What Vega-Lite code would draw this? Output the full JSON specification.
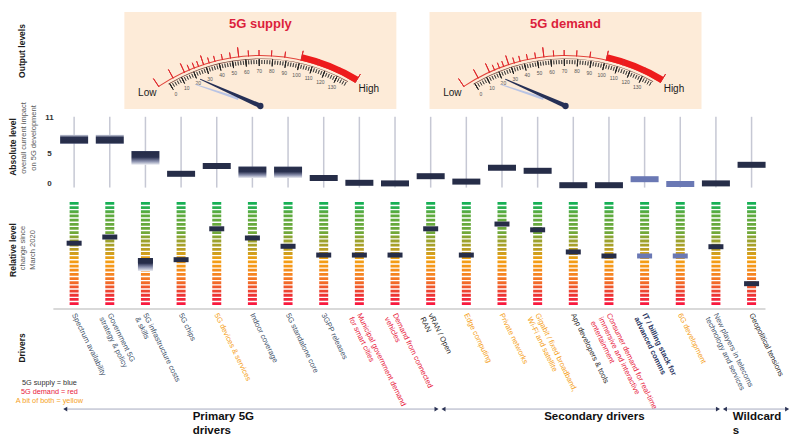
{
"$schema":"https://vega.github.io/schema/vega-lite/v6.json",
"width":800,"height":445,
"autosize":{"type":"none"},
"padding":0,
"background":"#ffffff",
"config":{"view":{"stroke":null},"font":"Liberation Sans"},
"datasets":{
 "drivers":[
  {"i":1,"label":"Spectrum availability","type":"supply","tone":"dark","abs":7.5,"lo":6.7,"hi":8.2,"fade":"both","rel":60},
  {"i":2,"label":"Government 5G\nstrategy & policy","type":"supply","tone":"dark","abs":7.5,"lo":6.7,"hi":8.2,"fade":"both","rel":66},
  {"i":3,"label":"5G infrastructure costs\n& skills","type":"supply","tone":"dark","abs":4.8,"lo":3.2,"hi":5.5,"fade":"down","rel":43,"relLo":33,"relHi":45.6},
  {"i":4,"label":"5G chips","type":"supply","tone":"dark","abs":1.7,"rel":44},
  {"i":5,"label":"5G devices & services","type":"both","tone":"dark","abs":3.0,"rel":74},
  {"i":6,"label":"Indoor coverage","type":"supply","tone":"dark","abs":2.3,"lo":1.0,"hi":2.9,"fade":"down","rel":65},
  {"i":7,"label":"5G standalone core","type":"supply","tone":"dark","abs":2.3,"lo":1.0,"hi":2.9,"fade":"down","rel":57},
  {"i":8,"label":"3GPP releases","type":"supply","tone":"dark","abs":1.0,"rel":48.5},
  {"i":9,"label":"Municipal government demand\nfor smart cities","type":"demand","tone":"dark","abs":0.2,"rel":48.5},
  {"i":10,"label":"Demand from connected\nvehicles","type":"demand","tone":"dark","abs":0.1,"rel":48.5},
  {"i":11,"label":"vRAN / Open\nRAN","type":"neutral","tone":"dark","abs":1.3,"rel":74},
  {"i":12,"label":"Edge computing","type":"both","tone":"dark","abs":0.4,"rel":48.5},
  {"i":13,"label":"Private networks","type":"both","tone":"dark","abs":2.7,"rel":78.6},
  {"i":14,"label":"Gigabit / fixed broadband,\nWi-Fi and satellite","type":"both","tone":"dark","abs":2.2,"rel":73},
  {"i":15,"label":"App developers & tools","type":"neutral","tone":"dark","abs":-0.2,"rel":51.5},
  {"i":16,"label":"Consumer demand for real-time\nimmersive and interactive\nentertainment","type":"demand","tone":"dark","abs":-0.2,"rel":47.6},
  {"i":17,"label":"IT / billing stack for\nadvanced comms","type":"it","tone":"light","abs":0.8,"rel":47.6},
  {"i":18,"label":"6G development","type":"both","tone":"light","abs":0.0,"rel":47.6},
  {"i":19,"label":"New players in telecoms\ntechnology and services","type":"supply","tone":"dark","abs":0.1,"rel":56.6},
  {"i":20,"label":"Geopolitical tensions","type":"neutral","tone":"dark","abs":3.2,"rel":20.7}
 ],
 "absTicks":[{"lab":"11","val":11},{"lab":"5","val":5},{"lab":"0","val":0}],
 "gauges":[{"g":0,"name":"5G supply"},{"g":1,"name":"5G demand"}],
 "ticks":[
  {"kind":"redLong","v":[-8,4.2,13.5,28.6,55,100.9,144]},
  {"kind":"redShort","v":[17.5,21.4,24.7,32.9,37.3,42.9,48.9,62.2,69.9,79,88.8,113.5,129]},
  {"kind":"minor","v":[0,2,4,6,8,10,12,14,16,18,20,22,24,26,28,30,32,34,36,38,40,42,44,46,48,50,52,54,56,58,60,62,64,66,68,70,72,74,76,78,80,82,84,86,88,90,92,94,96,98,100,102,104,106,108,110,112,114,116,118,120,122,124,126,128,130,132,134,136,138]},
  {"kind":"major","v":[0,10,20,30,40,50,60,70,80,90,100,110,120,130]}
 ],
 "words":[{"g":[0,1],"w":"Low","v":-17.5},{"g":[0,1],"w":"High","v":155}],
 "needles":[{"g":[0,1],"part":"ghost","reading":12},{"g":[0,1],"part":"needle","reading":20}],
 "sections":[
  {"sec":"Primary 5G\ndrivers","a":0.751,"b":11.165,"tx":4.324},
  {"sec":"Secondary drivers","a":11.359,"b":19.058,"tx":14.184},
  {"sec":"Wildcard\ns","a":19.252,"b":20.998,"tx":19.474}
 ]
},
"layer":[
 {"layer":[
  {"data":{"name":"gauges"},"mark":{"type":"bar","width":272,"fill":"#fdebd8"},
   "encoding":{"x":{"field":"g","type":"quantitative","scale":{"domain":[-0.8369,1.7521],"nice":false,"zero":false},"axis":null},
    "y":{"datum":0,"type":"quantitative","scale":{"domain":[-346.4,112.35],"nice":false,"zero":false},"axis":null},"y2":{"datum":100}}},
  {"data":{"name":"gauges"},"mark":{"type":"text","fontSize":13,"fontWeight":"bold","fill":"#dc1f3c","align":"center","baseline":"middle"},
   "encoding":{"x":{"field":"g","type":"quantitative","scale":{"domain":[-0.8369,1.7521],"nice":false,"zero":false},"axis":null},
    "y":{"datum":87.6,"type":"quantitative","scale":{"domain":[-346.4,112.35],"nice":false,"zero":false},"axis":null},"text":{"field":"name"}}},
  {"data":{"name":"gauges"},"mark":{"type":"arc","radius":183,"radius2":182,"fill":"#e2453c"},
   "encoding":{"x":{"field":"g","type":"quantitative","scale":{"domain":[-0.8369,1.7521],"nice":false,"zero":false},"axis":null},
    "y":{"datum":-133,"type":"quantitative","scale":{"domain":[-346.4,112.35],"nice":false,"zero":false},"axis":null},
    "theta":{"datum":-8,"type":"quantitative","stack":null,"scale":{"domain":[0,130],"range":[-0.531,0.443],"nice":false,"zero":false}},"theta2":{"datum":144}}},
  {"data":{"name":"gauges"},"mark":{"type":"arc","radius":188.5,"radius2":182,"fill":"#ee1c1c"},
   "encoding":{"x":{"field":"g","type":"quantitative","scale":{"domain":[-0.8369,1.7521],"nice":false,"zero":false},"axis":null},
    "y":{"datum":-133,"type":"quantitative","scale":{"domain":[-346.4,112.35],"nice":false,"zero":false},"axis":null},
    "theta":{"datum":100.9,"type":"quantitative","stack":null,"scale":{"domain":[0,130],"range":[-0.531,0.443],"nice":false,"zero":false}},"theta2":{"datum":144}}},
  {"data":{"name":"gauges"},"mark":{"type":"arc","radius":179.6,"radius2":178.9,"fill":"#7a4a40"},
   "encoding":{"x":{"field":"g","type":"quantitative","scale":{"domain":[-0.8369,1.7521],"nice":false,"zero":false},"axis":null},
    "y":{"datum":-133,"type":"quantitative","scale":{"domain":[-346.4,112.35],"nice":false,"zero":false},"axis":null},
    "theta":{"datum":-1,"type":"quantitative","stack":null,"scale":{"domain":[0,130],"range":[-0.531,0.443],"nice":false,"zero":false}},"theta2":{"datum":139}}},
  {"data":{"name":"ticks"},"transform":[{"filter":"datum.kind == 'redLong'"},{"flatten":["v"]}],"mark":{"type":"arc","radius":192,"radius2":182,"stroke":"#e0262b","strokeWidth":1,"fillOpacity":0},
   "encoding":{"x":{"datum":0,"type":"quantitative","scale":{"domain":[-0.8369,1.7521],"nice":false,"zero":false},"axis":null},
    "y":{"datum":-133,"type":"quantitative","scale":{"domain":[-346.4,112.35],"nice":false,"zero":false},"axis":null},
    "theta":{"field":"v","type":"quantitative","stack":null,"scale":{"domain":[0,130],"range":[-0.531,0.443],"nice":false,"zero":false}},"theta2":{"field":"v"}}},
  {"data":{"name":"ticks"},"transform":[{"filter":"datum.kind == 'redLong'"},{"flatten":["v"]}],"mark":{"type":"arc","radius":192,"radius2":182,"stroke":"#e0262b","strokeWidth":1,"fillOpacity":0},
   "encoding":{"x":{"datum":1,"type":"quantitative","scale":{"domain":[-0.8369,1.7521],"nice":false,"zero":false},"axis":null},
    "y":{"datum":-133,"type":"quantitative","scale":{"domain":[-346.4,112.35],"nice":false,"zero":false},"axis":null},
    "theta":{"field":"v","type":"quantitative","stack":null,"scale":{"domain":[0,130],"range":[-0.531,0.443],"nice":false,"zero":false}},"theta2":{"field":"v"}}},
  {"data":{"name":"ticks"},"transform":[{"filter":"datum.kind == 'redShort'"},{"flatten":["v"]}],"mark":{"type":"arc","radius":188,"radius2":182,"stroke":"#e0262b","strokeWidth":0.9,"fillOpacity":0},
   "encoding":{"x":{"datum":0,"type":"quantitative","scale":{"domain":[-0.8369,1.7521],"nice":false,"zero":false},"axis":null},
    "y":{"datum":-133,"type":"quantitative","scale":{"domain":[-346.4,112.35],"nice":false,"zero":false},"axis":null},
    "theta":{"field":"v","type":"quantitative","stack":null,"scale":{"domain":[0,130],"range":[-0.531,0.443],"nice":false,"zero":false}},"theta2":{"field":"v"}}},
  {"data":{"name":"ticks"},"transform":[{"filter":"datum.kind == 'redShort'"},{"flatten":["v"]}],"mark":{"type":"arc","radius":188,"radius2":182,"stroke":"#e0262b","strokeWidth":0.9,"fillOpacity":0},
   "encoding":{"x":{"datum":1,"type":"quantitative","scale":{"domain":[-0.8369,1.7521],"nice":false,"zero":false},"axis":null},
    "y":{"datum":-133,"type":"quantitative","scale":{"domain":[-346.4,112.35],"nice":false,"zero":false},"axis":null},
    "theta":{"field":"v","type":"quantitative","stack":null,"scale":{"domain":[0,130],"range":[-0.531,0.443],"nice":false,"zero":false}},"theta2":{"field":"v"}}},
  {"data":{"name":"ticks"},"transform":[{"filter":"datum.kind == 'minor'"},{"flatten":["v"]}],"mark":{"type":"arc","radius":178,"radius2":174,"stroke":"#333333","strokeWidth":0.7,"fillOpacity":0},
   "encoding":{"x":{"datum":0,"type":"quantitative","scale":{"domain":[-0.8369,1.7521],"nice":false,"zero":false},"axis":null},
    "y":{"datum":-133,"type":"quantitative","scale":{"domain":[-346.4,112.35],"nice":false,"zero":false},"axis":null},
    "theta":{"field":"v","type":"quantitative","stack":null,"scale":{"domain":[0,130],"range":[-0.531,0.443],"nice":false,"zero":false}},"theta2":{"field":"v"}}},
  {"data":{"name":"ticks"},"transform":[{"filter":"datum.kind == 'minor'"},{"flatten":["v"]}],"mark":{"type":"arc","radius":178,"radius2":174,"stroke":"#333333","strokeWidth":0.7,"fillOpacity":0},
   "encoding":{"x":{"datum":1,"type":"quantitative","scale":{"domain":[-0.8369,1.7521],"nice":false,"zero":false},"axis":null},
    "y":{"datum":-133,"type":"quantitative","scale":{"domain":[-346.4,112.35],"nice":false,"zero":false},"axis":null},
    "theta":{"field":"v","type":"quantitative","stack":null,"scale":{"domain":[0,130],"range":[-0.531,0.443],"nice":false,"zero":false}},"theta2":{"field":"v"}}},
  {"data":{"name":"ticks"},"transform":[{"filter":"datum.kind == 'major'"},{"flatten":["v"]}],"mark":{"type":"arc","radius":179,"radius2":172,"stroke":"#222222","strokeWidth":1,"fillOpacity":0},
   "encoding":{"x":{"datum":0,"type":"quantitative","scale":{"domain":[-0.8369,1.7521],"nice":false,"zero":false},"axis":null},
    "y":{"datum":-133,"type":"quantitative","scale":{"domain":[-346.4,112.35],"nice":false,"zero":false},"axis":null},
    "theta":{"field":"v","type":"quantitative","stack":null,"scale":{"domain":[0,130],"range":[-0.531,0.443],"nice":false,"zero":false}},"theta2":{"field":"v"}}},
  {"data":{"name":"ticks"},"transform":[{"filter":"datum.kind == 'major'"},{"flatten":["v"]}],"mark":{"type":"arc","radius":179,"radius2":172,"stroke":"#222222","strokeWidth":1,"fillOpacity":0},
   "encoding":{"x":{"datum":1,"type":"quantitative","scale":{"domain":[-0.8369,1.7521],"nice":false,"zero":false},"axis":null},
    "y":{"datum":-133,"type":"quantitative","scale":{"domain":[-346.4,112.35],"nice":false,"zero":false},"axis":null},
    "theta":{"field":"v","type":"quantitative","stack":null,"scale":{"domain":[0,130],"range":[-0.531,0.443],"nice":false,"zero":false}},"theta2":{"field":"v"}}},
  {"data":{"name":"ticks"},"transform":[{"filter":"datum.kind == 'major'"},{"flatten":["v"]}],"mark":{"type":"text","radius":167,"fontSize":5,"fill":"#555555","align":"center","baseline":"middle"},
   "encoding":{"x":{"datum":0,"type":"quantitative","scale":{"domain":[-0.8369,1.7521],"nice":false,"zero":false},"axis":null},
    "y":{"datum":-133,"type":"quantitative","scale":{"domain":[-346.4,112.35],"nice":false,"zero":false},"axis":null},
    "theta":{"field":"v","type":"quantitative","stack":null,"scale":{"domain":[0,130],"range":[-0.531,0.443],"nice":false,"zero":false}},
    "text":{"field":"v","type":"quantitative","format":"d"}}},
  {"data":{"name":"ticks"},"transform":[{"filter":"datum.kind == 'major'"},{"flatten":["v"]}],"mark":{"type":"text","radius":167,"fontSize":5,"fill":"#555555","align":"center","baseline":"middle"},
   "encoding":{"x":{"datum":1,"type":"quantitative","scale":{"domain":[-0.8369,1.7521],"nice":false,"zero":false},"axis":null},
    "y":{"datum":-133,"type":"quantitative","scale":{"domain":[-346.4,112.35],"nice":false,"zero":false},"axis":null},
    "theta":{"field":"v","type":"quantitative","stack":null,"scale":{"domain":[0,130],"range":[-0.531,0.443],"nice":false,"zero":false}},
    "text":{"field":"v","type":"quantitative","format":"d"}}},
  {"data":{"name":"words"},"transform":[{"flatten":["g"]}],"mark":{"type":"text","radius":184,"fontSize":10,"fill":"#1a1a1a","align":"center","baseline":"middle"},
   "encoding":{"x":{"field":"g","type":"quantitative","scale":{"domain":[-0.8369,1.7521],"nice":false,"zero":false},"axis":null},
    "y":{"datum":-133,"type":"quantitative","scale":{"domain":[-346.4,112.35],"nice":false,"zero":false},"axis":null},
    "theta":{"field":"v","type":"quantitative","stack":null,"scale":{"domain":[0,130],"range":[-0.531,0.443],"nice":false,"zero":false}},
    "text":{"field":"w"}}},
  {"data":{"name":"needles"},"transform":[{"flatten":["g"]}],"mark":{"type":"point","filled":true,"size":17424,"strokeWidth":0,"opacity":1},
   "encoding":{"x":{"field":"g","type":"quantitative","scale":{"domain":[-0.8369,1.7521],"nice":false,"zero":false},"axis":null},
    "y":{"datum":3.1,"type":"quantitative","scale":{"domain":[-346.4,112.35],"nice":false,"zero":false},"axis":null},
    "shape":{"field":"part","type":"nominal","scale":{"domain":["ghost","needle"],"range":["M-0.022,-0.35 L-0.006,-1.04 L0.006,-1.04 L0.022,-0.35 Z","M-0.035,0 L-0.008,-1 L0.008,-1 L0.035,0 Z"]},"legend":null},
    "color":{"field":"part","type":"nominal","scale":{"domain":["ghost","needle"],"range":["#b9c4e4","#263056"]},"legend":null},
    "angle":{"field":"reading","type":"quantitative","scale":{"domain":[0,20,130],"range":[-80,-66,73]},"legend":null}}},
  {"data":{"name":"gauges"},"mark":{"type":"point","filled":true,"shape":"circle","size":40,"fill":"#263056","strokeWidth":0,"opacity":1},
   "encoding":{"x":{"field":"g","type":"quantitative","scale":{"domain":[-0.8369,1.7521],"nice":false,"zero":false},"axis":null},
    "y":{"datum":3.1,"type":"quantitative","scale":{"domain":[-346.4,112.35],"nice":false,"zero":false},"axis":null}}}
 ]},
 {"layer":[
  {"data":{"name":"drivers"},"mark":{"type":"rule","stroke":"#c6c8d4","strokeWidth":1.5},
   "encoding":{"x":{"field":"i","type":"quantitative","scale":{"domain":[-0.9388,21.218],"nice":false,"zero":false},"axis":null},
    "y":{"datum":-0.6,"type":"quantitative","scale":{"domain":[-43.5,30.667],"nice":false,"zero":false},"axis":null},
    "y2":{"datum":11.2}}},
  {"data":{"name":"absTicks"},"mark":{"type":"text","fontSize":8,"fontWeight":"bold","fill":"#333333","align":"center","baseline":"middle"},
   "encoding":{"x":{"datum":0.307,"type":"quantitative","scale":{"domain":[-0.9388,21.218],"nice":false,"zero":false},"axis":null},
    "y":{"field":"val","type":"quantitative","scale":{"domain":[-43.5,30.667],"nice":false,"zero":false},"axis":null},"text":{"field":"lab"}}},
  {"data":{"name":"drivers"},"transform":[{"filter":"datum.fade == 'both'"}],
   "mark":{"type":"bar","width":28,"fill":{"gradient":"linear","x1":0,"y1":0,"x2":0,"y2":1,"stops":[{"offset":0,"color":"#d3d7e6"},{"offset":0.3,"color":"#2a3150"},{"offset":0.85,"color":"#262d48"},{"offset":1,"color":"#5a6282"}]}},
   "encoding":{"x":{"field":"i","type":"quantitative","scale":{"domain":[-0.9388,21.218],"nice":false,"zero":false},"axis":null},
    "y":{"field":"lo","type":"quantitative","scale":{"domain":[-43.5,30.667],"nice":false,"zero":false},"axis":null},"y2":{"field":"hi"}}},
  {"data":{"name":"drivers"},"transform":[{"filter":"datum.fade == 'down'"}],
   "mark":{"type":"bar","width":28,"fill":{"gradient":"linear","x1":0,"y1":0,"x2":0,"y2":1,"stops":[{"offset":0,"color":"#3a4262"},{"offset":0.1,"color":"#262d48"},{"offset":0.45,"color":"#2a3150"},{"offset":0.75,"color":"#8a90ad"},{"offset":1,"color":"#eceef4"}]}},
   "encoding":{"x":{"field":"i","type":"quantitative","scale":{"domain":[-0.9388,21.218],"nice":false,"zero":false},"axis":null},
    "y":{"field":"lo","type":"quantitative","scale":{"domain":[-43.5,30.667],"nice":false,"zero":false},"axis":null},"y2":{"field":"hi"}}},
  {"data":{"name":"drivers"},"transform":[{"filter":"datum.lo == null"}],
   "mark":{"type":"tick","orient":"horizontal","size":28,"thickness":6,"opacity":1},
   "encoding":{"x":{"field":"i","type":"quantitative","scale":{"domain":[-0.9388,21.218],"nice":false,"zero":false},"axis":null},
    "y":{"field":"abs","type":"quantitative","scale":{"domain":[-43.5,30.667],"nice":false,"zero":false},"axis":null},
    "color":{"field":"tone","type":"nominal","scale":{"domain":["dark","light"],"range":["#262d48","#6a78b4"]},"legend":null}}},
  {"data":{"values":[{"t":"Output levels"}]},"mark":{"type":"text","angle":270,"fontSize":8.5,"fontWeight":"bold","fill":"#1a1a1a","align":"center","baseline":"middle"},
   "encoding":{"x":{"datum":-0.45,"type":"quantitative","scale":{"domain":[-0.9388,21.218],"nice":false,"zero":false},"axis":null},
    "y":{"datum":22.17,"type":"quantitative","scale":{"domain":[-43.5,30.667],"nice":false,"zero":false},"axis":null},"text":{"field":"t"}}},
  {"data":{"values":[{"t":"Absolute level"}]},"mark":{"type":"text","angle":270,"fontSize":8.5,"fontWeight":"bold","fill":"#1a1a1a","align":"center","baseline":"middle"},
   "encoding":{"x":{"datum":-0.717,"type":"quantitative","scale":{"domain":[-0.9388,21.218],"nice":false,"zero":false},"axis":null},
    "y":{"datum":6.17,"type":"quantitative","scale":{"domain":[-43.5,30.667],"nice":false,"zero":false},"axis":null},"text":{"field":"t"}}},
  {"data":{"values":[{"t":"overall current impact"}]},"mark":{"type":"text","angle":270,"fontSize":7.5,"fill":"#595959","align":"center","baseline":"middle"},
   "encoding":{"x":{"datum":-0.41,"type":"quantitative","scale":{"domain":[-0.9388,21.218],"nice":false,"zero":false},"axis":null},
    "y":{"datum":7.67,"type":"quantitative","scale":{"domain":[-43.5,30.667],"nice":false,"zero":false},"axis":null},"text":{"field":"t"}}},
  {"data":{"values":[{"t":"on 5G development"}]},"mark":{"type":"text","angle":270,"fontSize":7.5,"fill":"#595959","align":"center","baseline":"middle"},
   "encoding":{"x":{"datum":-0.135,"type":"quantitative","scale":{"domain":[-0.9388,21.218],"nice":false,"zero":false},"axis":null},
    "y":{"datum":7.67,"type":"quantitative","scale":{"domain":[-43.5,30.667],"nice":false,"zero":false},"axis":null},"text":{"field":"t"}}}
 ]},
 {"layer":[
  {"data":{"name":"drivers"},
   "mark":{"type":"bar","width":9,"fill":{"gradient":"linear","x1":0,"y1":0,"x2":0,"y2":1,"stops":[{"offset":0,"color":"#12b056"},{"offset":0.06,"color":"#2cb052"},{"offset":0.1,"color":"#5bab40"},{"offset":0.3,"color":"#70a83a"},{"offset":0.36,"color":"#97a32f"},{"offset":0.42,"color":"#a8a02a"},{"offset":0.47,"color":"#c09e22"},{"offset":0.52,"color":"#dca01a"},{"offset":0.56,"color":"#f3a012"},{"offset":0.64,"color":"#f5941a"},{"offset":0.7,"color":"#f6851f"},{"offset":0.78,"color":"#f36c27"},{"offset":0.84,"color":"#f0502e"},{"offset":0.9,"color":"#ec3534"},{"offset":1,"color":"#fa1640"}]}},
   "encoding":{"x":{"field":"i","type":"quantitative","scale":{"domain":[-0.9388,21.218],"nice":false,"zero":false},"axis":null},
    "y":{"datum":0,"type":"quantitative","scale":{"domain":[-135.9,296.1],"nice":false,"zero":false},"axis":null},"y2":{"datum":100}}},
  {"data":{"name":"drivers"},"mark":{"type":"rule","stroke":"#ffffff","strokeWidth":11,"strokeDash":[1.375,2.8],"strokeDashOffset":1.375},
   "encoding":{"x":{"field":"i","type":"quantitative","scale":{"domain":[-0.9388,21.218],"nice":false,"zero":false},"axis":null},
    "y":{"datum":100,"type":"quantitative","scale":{"domain":[-135.9,296.1],"nice":false,"zero":false},"axis":null},"y2":{"datum":0}}},
  {"data":{"name":"drivers"},"transform":[{"filter":"datum.relLo != null"}],
   "mark":{"type":"bar","width":15,"fill":{"gradient":"linear","x1":0,"y1":0,"x2":0,"y2":1,"stops":[{"offset":0,"color":"#262d48"},{"offset":0.4,"color":"#2a3150"},{"offset":0.7,"color":"#8a90ad"},{"offset":1,"color":"#eceef4"}]}},
   "encoding":{"x":{"field":"i","type":"quantitative","scale":{"domain":[-0.9388,21.218],"nice":false,"zero":false},"axis":null},
    "y":{"field":"relLo","type":"quantitative","scale":{"domain":[-135.9,296.1],"nice":false,"zero":false},"axis":null},"y2":{"field":"relHi"}}},
  {"data":{"name":"drivers"},"mark":{"type":"tick","orient":"horizontal","size":15,"thickness":5,"opacity":1},
   "encoding":{"x":{"field":"i","type":"quantitative","scale":{"domain":[-0.9388,21.218],"nice":false,"zero":false},"axis":null},
    "y":{"field":"rel","type":"quantitative","scale":{"domain":[-135.9,296.1],"nice":false,"zero":false},"axis":null},
    "color":{"field":"tone","type":"nominal","scale":{"domain":["dark","light"],"range":["#262d48","#6a78b4"]},"legend":null}}},
  {"data":{"values":[{"k":"separator"}]},"mark":{"type":"rule","stroke":"#d9d9d9","strokeWidth":2},
   "encoding":{"x":{"datum":0.418,"type":"quantitative","scale":{"domain":[-0.9388,21.218],"nice":false,"zero":false},"axis":null},"x2":{"datum":20.39},
    "y":{"datum":-3.9,"type":"quantitative","scale":{"domain":[-135.9,296.1],"nice":false,"zero":false},"axis":null}}},
  {"data":{"name":"drivers"},"transform":[{"filter":"datum.i != 17"}],
   "mark":{"type":"text","angle":64,"align":"left","baseline":"top","fontSize":7.5,"lineHeight":9,"lineBreak":"\n","xOffset":3},
   "encoding":{"x":{"field":"i","type":"quantitative","scale":{"domain":[-0.9388,21.218],"nice":false,"zero":false},"axis":null},
    "y":{"datum":-6.8,"type":"quantitative","scale":{"domain":[-135.9,296.1],"nice":false,"zero":false},"axis":null},
    "text":{"field":"label"},
    "color":{"field":"type","type":"nominal","scale":{"domain":["supply","demand","both","neutral","it"],"range":["#44546a","#e8193c","#f5a11c","#262626","#28345e"]},"legend":null}}},
  {"data":{"name":"drivers"},"transform":[{"filter":"datum.i == 17"}],
   "mark":{"type":"text","angle":64,"align":"left","baseline":"top","fontSize":7.5,"fontWeight":"bold","lineHeight":9,"lineBreak":"\n","xOffset":3},
   "encoding":{"x":{"field":"i","type":"quantitative","scale":{"domain":[-0.9388,21.218],"nice":false,"zero":false},"axis":null},
    "y":{"datum":-6.8,"type":"quantitative","scale":{"domain":[-135.9,296.1],"nice":false,"zero":false},"axis":null},
    "text":{"field":"label"},
    "color":{"field":"type","type":"nominal","scale":{"domain":["supply","demand","both","neutral","it"],"range":["#44546a","#e8193c","#f5a11c","#262626","#28345e"]},"legend":null}}},
  {"data":{"values":[{"t":"Relative level"}]},"mark":{"type":"text","angle":270,"fontSize":8.5,"fontWeight":"bold","fill":"#1a1a1a","align":"center","baseline":"middle"},
   "encoding":{"x":{"datum":-0.717,"type":"quantitative","scale":{"domain":[-0.9388,21.218],"nice":false,"zero":false},"axis":null},
    "y":{"datum":53.4,"type":"quantitative","scale":{"domain":[-135.9,296.1],"nice":false,"zero":false},"axis":null},"text":{"field":"t"}}},
  {"data":{"values":[{"t":"change since"}]},"mark":{"type":"text","angle":270,"fontSize":7.5,"fill":"#595959","align":"center","baseline":"middle"},
   "encoding":{"x":{"datum":-0.44,"type":"quantitative","scale":{"domain":[-0.9388,21.218],"nice":false,"zero":false},"axis":null},
    "y":{"datum":55.3,"type":"quantitative","scale":{"domain":[-135.9,296.1],"nice":false,"zero":false},"axis":null},"text":{"field":"t"}}},
  {"data":{"values":[{"t":"March 2020"}]},"mark":{"type":"text","angle":270,"fontSize":7.5,"fill":"#595959","align":"center","baseline":"middle"},
   "encoding":{"x":{"datum":-0.163,"type":"quantitative","scale":{"domain":[-0.9388,21.218],"nice":false,"zero":false},"axis":null},
    "y":{"datum":53.4,"type":"quantitative","scale":{"domain":[-135.9,296.1],"nice":false,"zero":false},"axis":null},"text":{"field":"t"}}},
  {"data":{"values":[{"t":"Drivers"}]},"mark":{"type":"text","angle":270,"fontSize":8.5,"fontWeight":"bold","fill":"#1a1a1a","align":"center","baseline":"middle"},
   "encoding":{"x":{"datum":-0.45,"type":"quantitative","scale":{"domain":[-0.9388,21.218],"nice":false,"zero":false},"axis":null},
    "y":{"datum":-41.7,"type":"quantitative","scale":{"domain":[-135.9,296.1],"nice":false,"zero":false},"axis":null},"text":{"field":"t"}}},
  {"data":{"values":[{"t":"5G supply = blue"}]},"mark":{"type":"text","fontSize":7.3,"fill":"#333333","align":"center","baseline":"middle"},
   "encoding":{"x":{"datum":0.307,"type":"quantitative","scale":{"domain":[-0.9388,21.218],"nice":false,"zero":false},"axis":null},
    "y":{"datum":-75.7,"type":"quantitative","scale":{"domain":[-135.9,296.1],"nice":false,"zero":false},"axis":null},"text":{"field":"t"}}},
  {"data":{"values":[{"t":"5G demand = red"}]},"mark":{"type":"text","fontSize":7.3,"fill":"#e8193c","align":"center","baseline":"middle"},
   "encoding":{"x":{"datum":0.307,"type":"quantitative","scale":{"domain":[-0.9388,21.218],"nice":false,"zero":false},"axis":null},
    "y":{"datum":-84.5,"type":"quantitative","scale":{"domain":[-135.9,296.1],"nice":false,"zero":false},"axis":null},"text":{"field":"t"}}},
  {"data":{"values":[{"t":"A bit of both = yellow"}]},"mark":{"type":"text","fontSize":7.3,"fill":"#f5a11c","align":"center","baseline":"middle"},
   "encoding":{"x":{"datum":0.307,"type":"quantitative","scale":{"domain":[-0.9388,21.218],"nice":false,"zero":false},"axis":null},
    "y":{"datum":-93.2,"type":"quantitative","scale":{"domain":[-135.9,296.1],"nice":false,"zero":false},"axis":null},"text":{"field":"t"}}},
  {"data":{"name":"sections"},"mark":{"type":"rule","stroke":"#a6aabf","strokeWidth":1},
   "encoding":{"x":{"field":"a","type":"quantitative","scale":{"domain":[-0.9388,21.218],"nice":false,"zero":false},"axis":null},"x2":{"field":"b"},
    "y":{"datum":-101,"type":"quantitative","scale":{"domain":[-135.9,296.1],"nice":false,"zero":false},"axis":null}}},
  {"data":{"name":"sections"},"mark":{"type":"point","shape":"triangle-left","filled":true,"size":22,"fill":"#2b3355","strokeWidth":0,"opacity":1},
   "encoding":{"x":{"field":"a","type":"quantitative","scale":{"domain":[-0.9388,21.218],"nice":false,"zero":false},"axis":null},
    "y":{"datum":-101,"type":"quantitative","scale":{"domain":[-135.9,296.1],"nice":false,"zero":false},"axis":null}}},
  {"data":{"name":"sections"},"mark":{"type":"point","shape":"triangle-right","filled":true,"size":22,"fill":"#2b3355","strokeWidth":0,"opacity":1},
   "encoding":{"x":{"field":"b","type":"quantitative","scale":{"domain":[-0.9388,21.218],"nice":false,"zero":false},"axis":null},
    "y":{"datum":-101,"type":"quantitative","scale":{"domain":[-135.9,296.1],"nice":false,"zero":false},"axis":null}}},
  {"data":{"name":"sections"},"mark":{"type":"text","align":"left","baseline":"top","fontSize":11.5,"fontWeight":"bold","lineHeight":14,"lineBreak":"\n","fill":"#111111"},
   "encoding":{"x":{"field":"tx","type":"quantitative","scale":{"domain":[-0.9388,21.218],"nice":false,"zero":false},"axis":null},
    "y":{"datum":-102.9,"type":"quantitative","scale":{"domain":[-135.9,296.1],"nice":false,"zero":false},"axis":null},"text":{"field":"sec"}}}
 ],
 "resolve":{"scale":{"color":"independent"}}}
],
"resolve":{"scale":{"x":"independent","y":"independent","color":"independent"}}
}
